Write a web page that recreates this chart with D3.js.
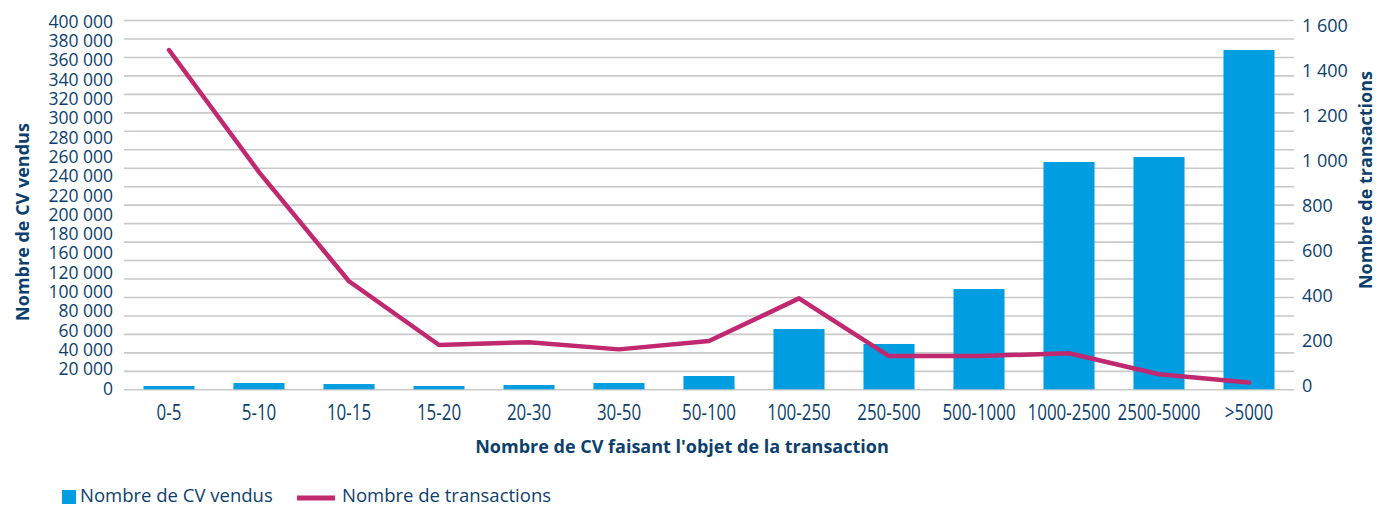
<!DOCTYPE html>
<html>
<head>
<meta charset="utf-8">
<script src="https://cdn.jsdelivr.net/npm/d3@7"></script>
<style>
  body { margin: 0; background: #fff; }
  text { fill: #0d3f6e; font-family: "Open Sans", sans-serif; }
</style>
</head>
<body>
<div id="canvas"></div>
<script>
/* DATA */
const categories = ["0-5", "5-10", "10-15", "15-20", "20-30", "30-50", "50-100",
    "100-250", "250-500", "500-1000", "1000-2500", "2500-5000", ">5000"];

const cvVendus = [3600, 6800, 5700, 3600, 4700, 6800, 14400,
    65300, 49100, 108600, 246200, 251600, 367500];

const transactions = [1470, 941, 468, 192, 204, 173, 209,
    394, 144, 144, 156, 65, 29];

const gridValues = d3.range(0, 400001, 20000);

// the labels of the left axis as printed (140 000 is missing in the source)
const leftTickLabels = ["400 000", "380 000", "360 000", "340 000", "320 000", "300 000",
    "280 000", "260 000", "240 000", "220 000", "200 000", "180 000", "160 000",
    "120 000", "100 000", "80 000", "60 000", "40 000", "20 000", "0"];

const rightTicks = [0, 200, 400, 600, 800, 1000, 1200, 1400, 1600];

/* CREATE THE SVG CANVAS */
const width = 1380;
const height = 507;

const svg = d3.select("#canvas")
    .append("svg")
    .attr("width", width)
    .attr("height", height);

const plotLeft = 124, plotRight = 1294, plotTop = 20, plotBottom = 389.3;

const x = d3.scaleBand()
    .domain(categories)
    .range([plotLeft, plotRight])
    .paddingInner(0.433)
    .paddingOuter(0.2165);

const y = d3.scaleLinear().domain([0, 400000]).range([plotBottom, plotTop]);
const y2 = d3.scaleLinear().domain([0, 1600]).range([plotBottom, plotTop]);

// label positions, as laid out in the original
const yLeftLabel = d3.scalePoint().domain(leftTickLabels).range([21.7, 388.5]);
const yRightLabel = d3.scaleLinear().domain([0, 1600]).range([386, 25.5]);

const fmt = v => d3.format(",")(v).replace(/,/g, " ");

/* GRIDLINES */
svg.append("g")
    .attr("transform", `translate(${plotLeft},0)`)
    .call(d3.axisLeft(y).tickValues(gridValues).tickSize(-(plotRight - plotLeft)).tickFormat(""))
    .call(g => g.select(".domain").remove())
    .call(g => g.selectAll("line").attr("stroke", "#c9c9c9").attr("stroke-width", 1.6));

/* LEFT LABELS */
svg.append("g")
    .selectAll("text")
    .data(leftTickLabels)
    .join("text")
    .attr("x", 113)
    .attr("y", d => yLeftLabel(d))
    .attr("dy", "0.35em")
    .attr("text-anchor", "end")
    .style("font-size", "17.5px")
    .text(d => d);

/* RIGHT LABELS */
svg.append("g")
    .selectAll("text")
    .data(rightTicks)
    .join("text")
    .attr("x", 1302)
    .attr("y", d => yRightLabel(d))
    .attr("dy", "0.35em")
    .style("font-size", "18px")
    .text(d => fmt(d));

/* BARS */
svg.append("g")
    .selectAll("rect")
    .data(categories)
    .join("rect")
    .attr("x", d => x(d))
    .attr("y", (d, i) => y(cvVendus[i]))
    .attr("width", x.bandwidth())
    .attr("height", (d, i) => plotBottom - y(cvVendus[i]))
    .attr("fill", "#009ee0");

/* LINE */
const line = d3.line()
    .x((d, i) => x(categories[i]) + x.bandwidth() / 2)
    .y(d => y2(d));

svg.append("path")
    .datum(transactions)
    .attr("d", line)
    .attr("fill", "none")
    .attr("stroke", "#c0286f")
    .attr("stroke-width", 4.5)
    .attr("stroke-linejoin", "round")
    .attr("stroke-linecap", "round");

/* CATEGORY LABELS (condensed look) */
svg.append("g")
    .attr("transform", `translate(0,${plotBottom})`)
    .call(d3.axisBottom(x).tickSize(0).tickPadding(15))
    .call(g => g.select(".domain").remove())
    .call(g => g.selectAll("text")
        .style("font-family", "'Open Sans', sans-serif")
        .style("font-size", "22px")
        .attr("transform", "scale(0.77,1)")
        .attr("fill", "#0d3f6e"));

/* AXIS TITLES */
svg.append("text")
    .attr("transform", "translate(29,222) rotate(-90)")
    .attr("text-anchor", "middle")
    .style("font-size", "18px")
    .style("font-weight", "bold")
    .text("Nombre de CV vendus");

svg.append("text")
    .attr("transform", "translate(1372,180) rotate(-90)")
    .attr("text-anchor", "middle")
    .style("font-size", "18px")
    .style("font-weight", "bold")
    .text("Nombre de transactions");

svg.append("text")
    .attr("x", 682)
    .attr("y", 453)
    .attr("text-anchor", "middle")
    .style("font-size", "18px")
    .style("font-weight", "bold")
    .text("Nombre de CV faisant l'objet de la transaction");

/* LEGEND */
const legend = svg.append("g");

legend.append("rect")
    .attr("x", 62).attr("y", 490)
    .attr("width", 14).attr("height", 14)
    .attr("fill", "#009ee0");

legend.append("text")
    .attr("x", 80).attr("y", 502)
    .style("font-size", "18.5px")
    .text("Nombre de CV vendus");

legend.append("line")
    .attr("x1", 297).attr("x2", 335)
    .attr("y1", 498).attr("y2", 498)
    .attr("stroke", "#c0286f")
    .attr("stroke-width", 5);

legend.append("text")
    .attr("x", 342).attr("y", 502)
    .style("font-size", "18.5px")
    .text("Nombre de transactions");
</script>
</body>
</html>
